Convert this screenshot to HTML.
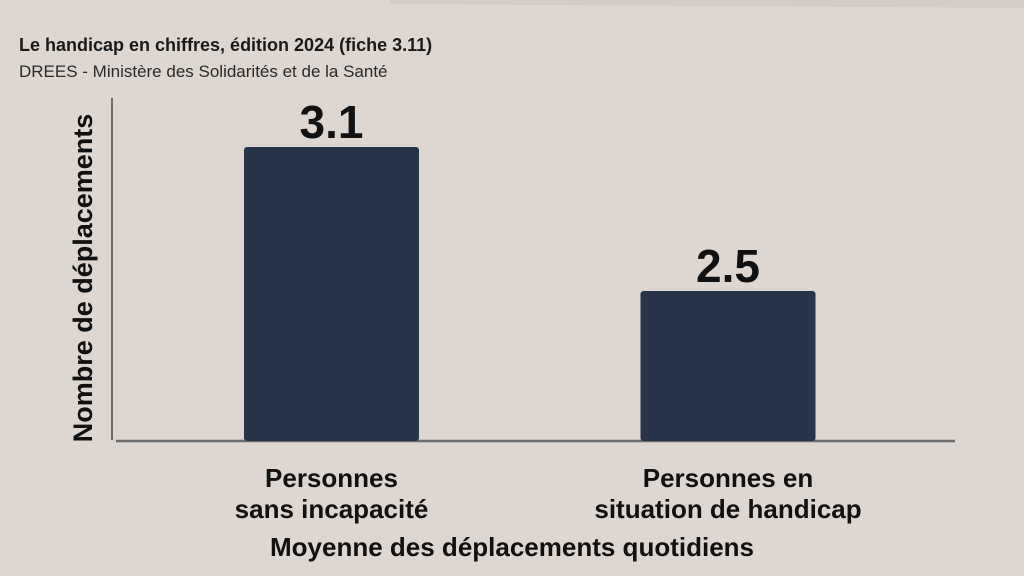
<!DOCTYPE html>
<html><head><meta charset="utf-8"><style>
body{margin:0;width:1024px;height:576px;background:#ddd6d1;overflow:hidden;font-family:"Liberation Sans",sans-serif}
svg{position:absolute;left:0;top:0}
</style></head><body>
<svg width="1024" height="576">
<rect x="0" y="0" width="1024" height="576" fill="#ddd6d1"/>
<path d="M390 0 L1024 0 L1024 8 L390 4 Z" fill="#d3cbc6"/>
<text x="19" y="51" font-size="18" font-weight="bold" fill="#1a1a1a">Le handicap en chiffres, édition 2024 (fiche 3.11)</text>
<text x="19" y="77" font-size="17" fill="#2a2a2a">DREES - Ministère des Solidarités et de la Santé</text>
<line x1="112" y1="98" x2="112" y2="440" stroke="#6b6b6b" stroke-width="2"/>
<line x1="116" y1="441" x2="955" y2="441" stroke="#6b6b6b" stroke-width="2.5"/>
<text transform="translate(92,278) rotate(-90)" text-anchor="middle" font-size="27" font-weight="bold" fill="#111">Nombre de déplacements</text>
<text x="512" y="556" text-anchor="middle" font-size="26" font-weight="bold" fill="#111">Moyenne des déplacements quotidiens</text>
<g id="bars"></g>
</svg>
<script>
const categories=[["Personnes","sans incapacité"],["Personnes en","situation de handicap"]];
const values=[3.1,2.5];
const valueLabels=["3.1","2.5"];
const yMin=1.875, pxPerUnit=240, base=441;
const centers=[331.5,728], bw=175;
function yScale(v){return base-(v-yMin)*pxPerUnit;}
const g=document.getElementById('bars');
const ns="http://www.w3.org/2000/svg";
values.forEach((v,i)=>{
 const y=yScale(v);
 const r=document.createElementNS(ns,'rect');
 r.setAttribute('x',centers[i]-bw/2);r.setAttribute('y',y);r.setAttribute('width',bw);r.setAttribute('height',base-y);
 r.setAttribute('rx',3);r.setAttribute('fill','#27344a');
 
 
 g.appendChild(r);
 const t=document.createElementNS(ns,'text');
 t.setAttribute('x',centers[i]);t.setAttribute('y',y-9);t.setAttribute('text-anchor','middle');
 t.setAttribute('font-size','46');t.setAttribute('font-weight','bold');t.setAttribute('fill','#111');
 t.textContent=valueLabels[i];
 
 
 g.appendChild(t);
 categories[i].forEach((line,j)=>{
  const c=document.createElementNS(ns,'text');
  c.setAttribute('x',centers[i]);c.setAttribute('y',487+j*31);c.setAttribute('text-anchor','middle');
  c.setAttribute('font-size','26');c.setAttribute('font-weight','bold');c.setAttribute('fill','#111');
  c.textContent=line;
  
  
  g.appendChild(c);
 });
});
</script>
</body></html>
